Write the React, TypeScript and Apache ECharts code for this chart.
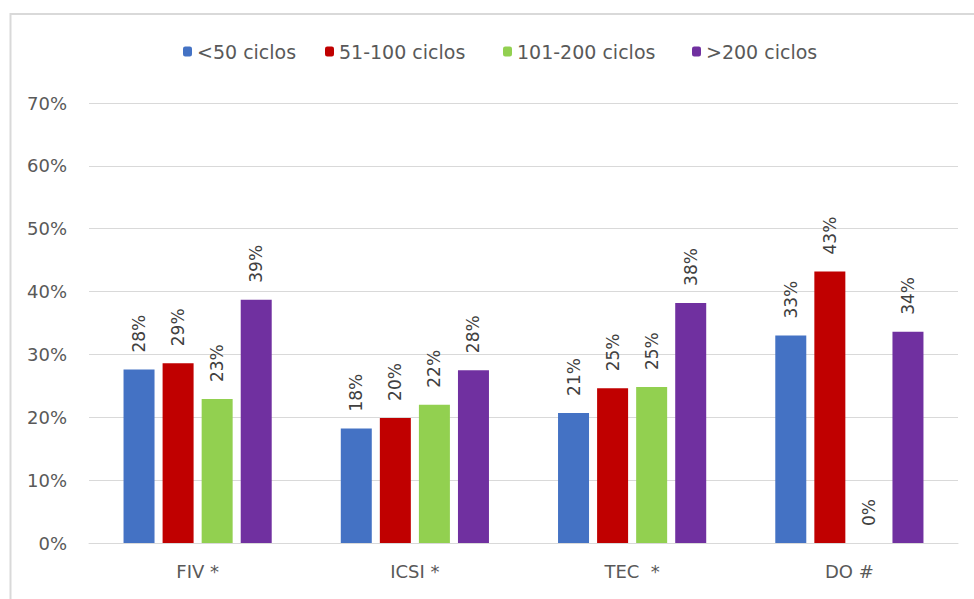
import React, { useEffect, useRef } from "react";
import * as echarts from "echarts";

const categories = ["FIV *", "ICSI *", "TEC  *", "DO #"];
const seriesNames = ["<50 ciclos", "51-100 ciclos", "101-200 ciclos", ">200 ciclos"];
const lt50 = [27.6, 18.2, 20.7, 33.0];
const c51to100 = [28.6, 19.9, 24.6, 43.2];
const c101to200 = [22.9, 22.0, 24.8, 0];
const gt200 = [38.7, 27.5, 38.2, 33.6];
const yTicks = { min: 0, max: 70, interval: 10 };

const colors = ["#4472C4", "#C00000", "#92D050", "#7030A0"];
const legendLefts = [183, 325, 503, 692];
const FONT = "DejaVu Sans";

export default function App() {
  const ref = useRef<HTMLDivElement>(null);
  useEffect(() => {
    if (!ref.current) return;
    const chart = echarts.init(ref.current, undefined, { renderer: "svg" });
    const allData = [lt50, c51to100, c101to200, gt200];
    const series = seriesNames.map((name, i) => ({
      name,
      type: "bar",
      data: allData[i],
      barWidth: 31,
      barGap: "26%",
      itemStyle: { color: colors[i] },
      label: {
        show: true,
        position: "top",
        rotate: 90,
        align: "left",
        verticalAlign: "middle",
        distance: 17,
        fontSize: 17,
        fontFamily: FONT,
        color: "#404040",
        formatter: (p: any) => Math.round(p.value) + "%",
      },
    }));
    const legends = seriesNames.map((name, i) => ({
      data: [name],
      left: legendLefts[i],
      top: 42,
      padding: 0,
      itemWidth: 9,
      itemHeight: 10,
      itemGap: 0,
      itemTextGap: 3,
      itemStyle: { borderWidth: 0 },
      textStyle: { fontSize: 19, fontFamily: FONT, color: "#595959" },
      selectedMode: false,
    }));
    chart.setOption({
      animation: false,
      textStyle: { fontFamily: FONT },
      legend: legends,
      grid: { left: 89, right: 16, top: 103, bottom: 56, containLabel: false },
      xAxis: {
        type: "category",
        data: categories,
        axisTick: { show: false },
        axisLine: { lineStyle: { color: "#D9D9D9", width: 1 } },
        axisLabel: { fontSize: 18, fontFamily: FONT, color: "#595959", margin: 19 },
      },
      yAxis: {
        type: "value",
        min: yTicks.min,
        max: yTicks.max,
        interval: yTicks.interval,
        axisLine: { show: false },
        axisTick: { show: false },
        splitLine: { lineStyle: { color: "#D9D9D9", width: 1 } },
        axisLabel: {
          fontSize: 18,
          fontFamily: FONT,
          color: "#595959",
          margin: 22,
          formatter: "{value}%",
        },
      },
      graphic: [
        {
          type: "rect",
          shape: { x: 10.5, y: 14, width: 1000, height: 700 },
          style: { fill: "none", stroke: "#D9D9D9", lineWidth: 2 },
          silent: true,
        },
      ],
      series,
    });
    return () => chart.dispose();
  }, []);
  return (
    <div
      ref={ref}
      style={{ position: "fixed", left: 0, top: 0, width: 974, height: 599, background: "#fff" }}
    />
  );
}
